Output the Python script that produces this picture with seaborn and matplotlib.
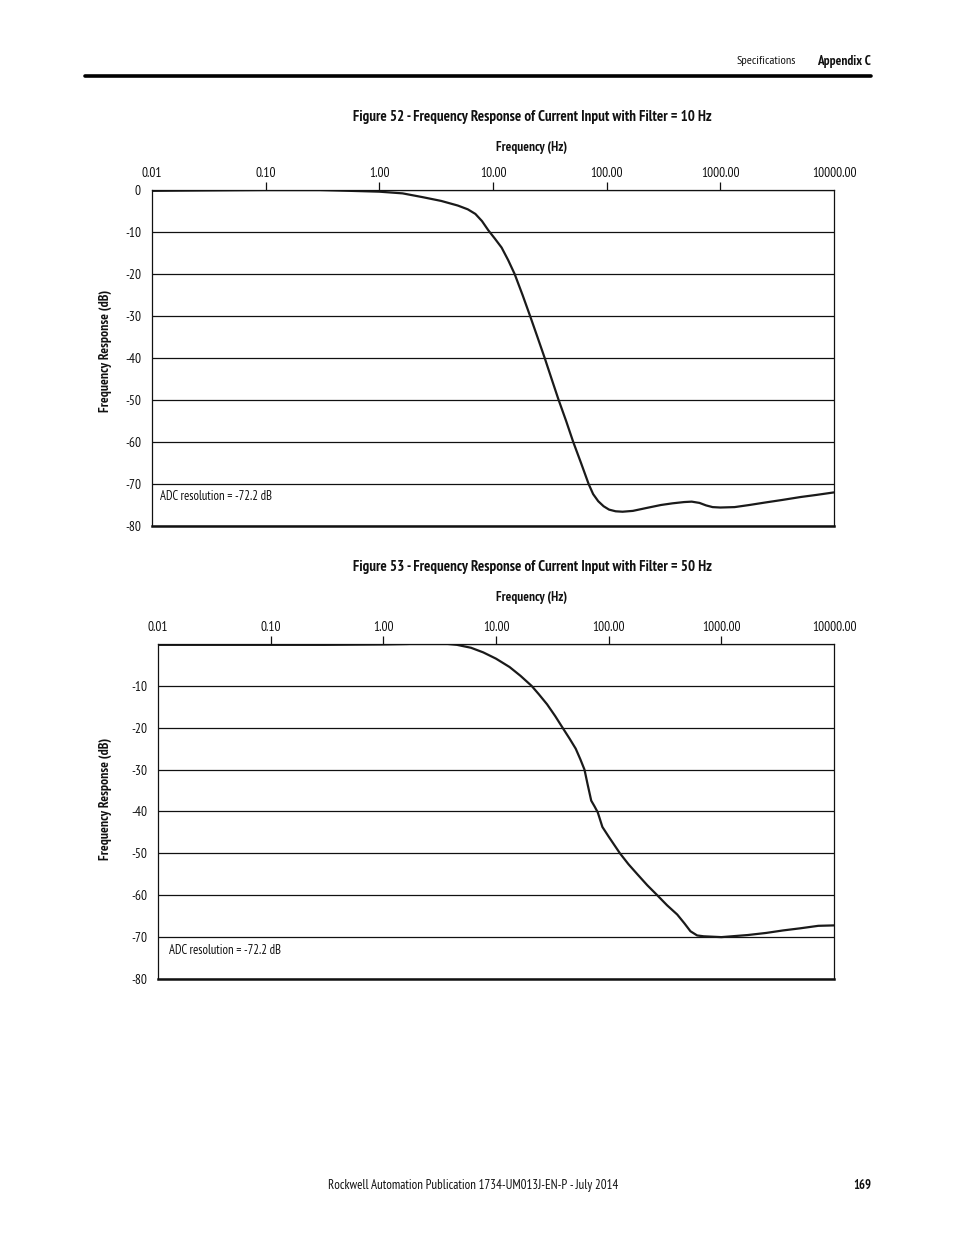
import matplotlib
matplotlib.use("Agg")
import matplotlib.pyplot as plt
from matplotlib.lines import Line2D
from matplotlib import font_manager as fm
import matplotlib.ticker as mticker
import seaborn as sns
import pandas as pd

# ---------------- data ----------------
freq_10hz = [0.01, 0.03, 0.1, 0.3, 1.0, 1.6, 2.4, 3.5, 4.9, 6.0, 7.0, 8.0, 9.1, 10.4, 11.9,
             13.6, 15.5, 18.2, 21.2, 24.6, 28.5, 32.8, 37.8, 44.0, 50.8, 59.5, 69.4, 76.0,
             84.3, 94.0, 105, 120, 138, 170, 225, 300, 380, 480, 560, 655, 750, 855, 1000,
             1336, 1800, 2490, 3500, 5080, 7000, 10000]
db_10hz = [-0.2, -0.1, 0.0, 0.0, -0.4, -0.8, -1.7, -2.6, -3.7, -4.6, -5.7, -7.4, -9.6, -11.6,
           -13.7, -16.7, -20.0, -25.0, -30.0, -35.0, -40.0, -45.0, -50.0, -55.0, -60.0, -65.0,
           -70.0, -72.4, -74.1, -75.3, -76.1, -76.5, -76.6, -76.4, -75.7, -75.0, -74.6, -74.3,
           -74.2, -74.5, -75.1, -75.5, -75.6, -75.5, -75.0, -74.4, -73.8, -73.1, -72.6, -72.0]

freq_50hz = [0.01, 0.03, 0.1, 0.3, 1.0, 1.6, 2.6, 3.5, 4.5, 6.0, 7.7, 10.0, 13.2, 16.5, 20.7,
             24.0, 28.4, 33.5, 39.0, 45.0, 51.0, 56.0, 61.0, 65.0, 70.0, 75.0, 80.0, 88.0,
             100, 126, 150, 180, 220, 270, 330, 406, 470, 532, 610, 697, 1000, 1717, 2500,
             3535, 5000, 7260, 10000]
db_50hz = [-0.2, -0.2, -0.2, -0.2, -0.1, 0.0, 0.2, 0.1, -0.2, -0.9, -2.0, -3.5, -5.5, -7.6,
           -10.0, -12.0, -14.4, -17.2, -20.0, -22.6, -25.0, -27.5, -30.0, -33.5, -37.4, -38.8,
           -40.2, -43.7, -46.0, -50.0, -52.6, -55.0, -57.6, -60.0, -62.4, -64.6, -66.7, -68.6,
           -69.6, -69.8, -70.0, -69.5, -69.0, -68.4, -67.9, -67.3, -67.2]

tick_freqs = [0.01, 0.1, 1, 10, 100, 1000, 10000]
tick_labels = ["0.01", "0.10", "1.00", "10.00", "100.00", "1000.00", "10000.00"]
db_ticks = [0, -10, -20, -30, -40, -50, -60, -70, -80]
db_labels_52 = ["0", "-10", "-20", "-30", "-40", "-50", "-60", "-70", "-80"]
db_labels_53 = ["", "-10", "-20", "-30", "-40", "-50", "-60", "-70", "-80"]

title_52 = "Figure 52 - Frequency Response of Current Input with Filter = 10 Hz"
title_53 = "Figure 53 - Frequency Response of Current Input with Filter = 50 Hz"
xlabel = "Frequency (Hz)"
ylabel = "Frequency Response (dB)"
adc_note = "ADC resolution = -72.2 dB"
footer = "Rockwell Automation Publication 1734-UM013J-EN-P - July 2014"

# ---------------- font choice (narrow humanist sans, static regular + bold) ----------------
ttf = fm.fontManager.ttflist


def wnum(f):
    w = f.weight
    if isinstance(w, str):
        w = fm.weight_dict.get(w, 400)
    return int(w)


def pick_pair(name, stretch=None):
    fs = [f for f in ttf if f.name == name and f.style == "normal"
          and (stretch is None or stretch in str(f.stretch))]
    static = [f for f in fs if "[" not in f.fname]
    if not static:
        return None
    reg = [f for f in static if 380 <= wnum(f) <= 500]
    bold = [f for f in static if wnum(f) >= 600]
    if not reg or not bold:
        return None
    r = min(reg, key=lambda f: abs(wnum(f) - 400))
    b = min(bold, key=lambda f: abs(wnum(f) - 700))
    return fm.FontProperties(fname=r.fname), fm.FontProperties(fname=b.fname)


REG = BOLD = None
for nm, st in [("PT Sans Narrow", None), ("Fira Sans Condensed", None),
               ("Open Sans Condensed", None), ("Open Sans", "condensed"),
               ("Roboto Condensed", None), ("Archivo Narrow", None),
               ("IBM Plex Sans Condensed", None), ("Encode Sans Condensed", None),
               ("Asap Condensed", None), ("Ubuntu Condensed", None),
               ("Liberation Sans Narrow", None)]:
    pair = pick_pair(nm, st)
    if pair:
        REG, BOLD = pair
        break
if REG is None:
    REG = fm.FontProperties(family="Liberation Sans")
    BOLD = fm.FontProperties(family="Liberation Sans", weight="bold")

# ---------------- style ----------------
sns.set_theme(style="white")
plt.rcParams["font.family"] = ["Liberation Sans", "DejaVu Sans"]
plt.rcParams["axes.edgecolor"] = "#111111"
INK = "#111111"

W, H = 954, 1235
fig = plt.figure(figsize=(W / 100, H / 100), dpi=100)
fig.patch.set_facecolor("white")
renderer = fig.canvas.get_renderer()


def fx(x):
    return x / W


def fy(y):
    return 1 - y / H


def fit_size(text, fp, target_px, base=10.0, lo=6.0, hi=12.5):
    t = fig.text(0, 0, text, fontproperties=fp, fontsize=base)
    bb = t.get_window_extent(renderer)
    t.remove()
    size = base * target_px / max(bb.width, 1)
    return max(lo, min(hi, size))


def put(x, y, text, fp, target_px, ha="center", rotation=0):
    size = fit_size(text, fp, target_px)
    fig.text(fx(x), fy(y), text, fontproperties=fp, fontsize=size, ha=ha, va="center",
             rotation=rotation, color=INK)


TICK_SIZE = fit_size("10000.00", REG, 45)


def make_panel(left, right, top, bottom, freqs, dbs, ylabels, note_x, note_y, ylab_y):
    ax = fig.add_axes([fx(left), fy(bottom), (right - left) / W, (bottom - top) / H])
    df = pd.DataFrame({"f": freqs, "db": dbs})
    sns.lineplot(data=df, x="f", y="db", ax=ax, color="#1a1a1a", linewidth=1.6,
                 sort=False, estimator=None)
    ax.set_xscale("log")
    ax.set_xlim(0.01, 10000)
    ax.set_ylim(-80, 0)
    ax.xaxis.set_major_locator(mticker.FixedLocator(tick_freqs))
    ax.xaxis.set_minor_locator(mticker.NullLocator())
    ax.set_xticklabels(tick_labels)
    ax.xaxis.tick_top()
    ax.set_yticks(db_ticks)
    ax.set_yticklabels(ylabels)
    ax.tick_params(axis="x", which="major", direction="out", length=6, width=0.9,
                   color=INK, pad=1.0, labelcolor=INK)
    ax.tick_params(axis="y", direction="out", length=3, width=0.9, color=INK,
                   pad=5, labelcolor=INK)
    for lab in ax.get_xticklabels() + ax.get_yticklabels():
        lab.set_fontproperties(REG)
        lab.set_fontsize(TICK_SIZE)
    ticks = ax.xaxis.get_major_ticks()
    for t in (ticks[0], ticks[-1]):
        t.tick1line.set_visible(False)
        t.tick2line.set_visible(False)
    ax.yaxis.grid(True, color=INK, linewidth=0.9)
    ax.xaxis.grid(False)
    for s in ["top", "left", "right"]:
        ax.spines[s].set_linewidth(0.9)
    ax.spines["bottom"].set_linewidth(1.8)
    ax.set_xlabel("")
    ax.set_ylabel("")
    put(note_x, note_y, adc_note, REG, 112, ha="left")
    size = fit_size(ylabel, BOLD, 122)
    fig.text(fx(106), fy(ylab_y), ylabel, fontproperties=BOLD, fontsize=size,
             rotation=90, ha="center", va="center", color=INK)
    return ax


# header
fig.add_artist(Line2D([fx(85), fx(871)], [fy(76), fy(76)], color="black", linewidth=2.6))
put(766, 61, "Specifications", REG, 59)
put(871, 61, "Appendix C", BOLD, 54, ha="right")

# figure 52
put(532, 117, title_52, BOLD, 360)
put(532, 147, xlabel, BOLD, 71)
make_panel(152, 834, 190, 526, freq_10hz, db_10hz, db_labels_52, 160, 497, 351)

# figure 53
put(532, 567, title_53, BOLD, 360)
put(532, 597, xlabel, BOLD, 71)
make_panel(158, 834, 644, 979, freq_50hz, db_50hz, db_labels_53, 169, 950, 799)

# footer
put(473, 1185, footer, REG, 288)
put(871, 1185, "169", BOLD, 18, ha="right")

fig.savefig("out.png", dpi=100, facecolor="white")
